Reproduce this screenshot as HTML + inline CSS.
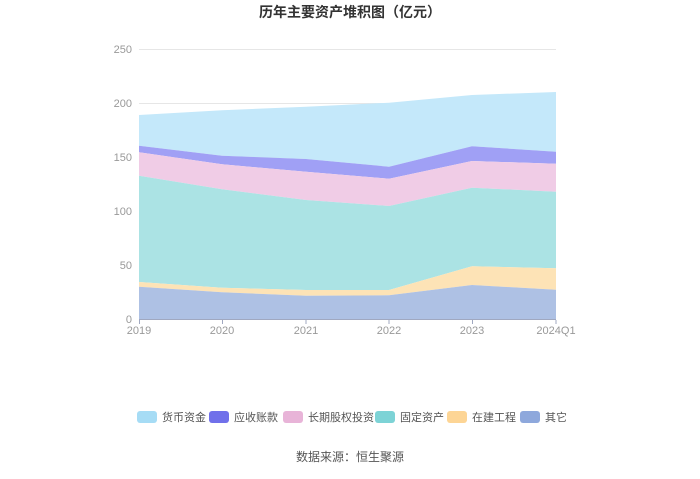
<!DOCTYPE html>
<html><head><meta charset="utf-8"><style>
body{margin:0;background:#fff;}
text{font-family:"Liberation Sans","Noto Sans CJK SC",sans-serif;}
</style></head><body>
<svg width="700" height="474" xmlns="http://www.w3.org/2000/svg">
<text x="350" y="17" text-anchor="middle" font-size="14" font-weight="bold" fill="#333">历年主要资产堆积图（亿元）</text>
<g stroke="#e6e6e6" stroke-width="1">
<line x1="139" y1="49.5" x2="556" y2="49.5"/>
<line x1="139" y1="103.5" x2="556" y2="103.5"/>
<line x1="139" y1="157.5" x2="556" y2="157.5"/>
<line x1="139" y1="211.5" x2="556" y2="211.5"/>
<line x1="139" y1="265.5" x2="556" y2="265.5"/>
</g>
<g font-size="11" fill="#999" text-anchor="end">
<text x="132" y="53">250</text><text x="132" y="107">200</text><text x="132" y="161">150</text>
<text x="132" y="215">100</text><text x="132" y="269">50</text><text x="132" y="323">0</text>
</g>
<polygon fill="#c4e8fa" points="139,115 222,110.3 306,106.7 389,102.7 472,95 556,92 556,151.7 472,146.3 389,166.7 306,159 222,155.7 139,145.7"/>
<polygon fill="#a0a0f5" points="139,145.7 222,155.7 306,159 389,166.7 472,146.3 556,151.7 556,163.7 472,161 389,178.7 306,171.7 222,164.3 139,152.3"/>
<polygon fill="#f0cce6" points="139,152.3 222,164.3 306,171.7 389,178.7 472,161 556,163.7 556,191.7 472,187.7 389,206 306,200 222,189.3 139,175.7"/>
<polygon fill="#abe3e4" points="139,175.7 222,189.3 306,200 389,206 472,187.7 556,191.7 556,268.3 472,266.3 389,290 306,290 222,287.7 139,282"/>
<polygon fill="#fde3b6" points="139,282 222,287.7 306,290 389,290 472,266.3 556,268.3 556,289.7 472,285 389,295.3 306,295.7 222,292.3 139,286.7"/>
<polygon fill="#aec1e4" points="139,286.7 222,292.3 306,295.7 389,295.3 472,285 556,289.7 556,319.5 139,319.5"/>
<line x1="139" y1="319.5" x2="556" y2="319.5" stroke="#a0a8c0"/>
<g stroke="#a0a8c0"><line x1="139.5" y1="320" x2="139.5" y2="324"/><line x1="222.5" y1="320" x2="222.5" y2="324"/><line x1="306" y1="320" x2="306" y2="324"/><line x1="389" y1="320" x2="389" y2="324"/><line x1="472.5" y1="320" x2="472.5" y2="324"/><line x1="556" y1="320" x2="556" y2="324"/></g>
<g font-size="11" fill="#999" text-anchor="middle">
<text x="139" y="334">2019</text><text x="222" y="334">2020</text><text x="306" y="334">2021</text>
<text x="389" y="334">2022</text><text x="472" y="334">2023</text><text x="556" y="334">2024Q1</text>
</g>
<g font-size="11" fill="#555">
<rect x="137" y="411" width="20" height="12" rx="3" fill="#a6dcf5"/><text x="162" y="421">货币资金</text>
<rect x="209" y="411" width="20" height="12" rx="3" fill="#7070ea"/><text x="234" y="421">应收账款</text>
<rect x="283" y="411" width="20" height="12" rx="3" fill="#e8b4d8"/><text x="308" y="421">长期股权投资</text>
<rect x="375" y="411" width="20" height="12" rx="3" fill="#7dd3d6"/><text x="400" y="421">固定资产</text>
<rect x="447" y="411" width="20" height="12" rx="3" fill="#fdd595"/><text x="472" y="421">在建工程</text>
<rect x="520" y="411" width="20" height="12" rx="3" fill="#8ea8dc"/><text x="545" y="421">其它</text>
</g>
<text x="350" y="461" text-anchor="middle" font-size="12" fill="#555">数据来源：恒生聚源</text>
</svg>
</body></html>
